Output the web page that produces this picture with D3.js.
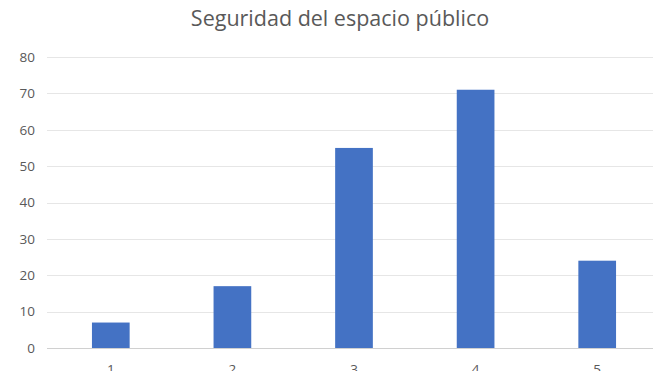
<!DOCTYPE html>
<html><head><meta charset="utf-8">
<script src="https://cdn.jsdelivr.net/npm/d3@7"></script>
<style>body{margin:0;background:#fff}svg{display:block}</style>
</head><body>
<script>
const categories = ["1","2","3","4","5"];
const values = [7,17,55,71,24];
const yTicks = [0,10,20,30,40,50,60,70,80];
const title = "Seguridad del espacio público";

const W=653,H=371;
const svg=d3.select("body").append("svg").attr("width",W).attr("height",H);
const x=d3.scaleBand().domain(categories).range([50,658]).paddingInner(0.69).paddingOuter(0.345);
const y=d3.scaleLinear().domain([0,80]).range([348,57]);
const font="'Open Sans', 'Liberation Sans', sans-serif";

svg.append("g").selectAll("line").data(yTicks).join("line")
 .attr("x1",47).attr("x2",W).attr("y1",d=>Math.round(y(d))+0.5).attr("y2",d=>Math.round(y(d))+0.5)
 .attr("stroke",d=>d===0?"#d0d0d0":"#e6e6e6").attr("stroke-width",1);

const yAxis=d3.axisLeft(y).tickValues(yTicks).tickSize(0).tickPadding(0);
const ga=svg.append("g").attr("transform","translate(35,0)").call(yAxis);
ga.select(".domain").remove();
ga.selectAll("text").attr("font-family",font).attr("font-size",13.5).attr("fill","#595959");

svg.append("g").selectAll("rect").data(values).join("rect")
 .attr("x",(d,i)=>x(categories[i])).attr("width",x.bandwidth())
 .attr("y",d=>y(d)).attr("height",d=>y(0)-y(d)).attr("fill","#4472c4");

const xAxis=d3.axisBottom(x).tickSize(0).tickPadding(0);
const gx=svg.append("g").attr("transform","translate(0,364)").call(xAxis);
gx.select(".domain").remove();
gx.selectAll("text").attr("font-family",font).attr("font-size",13.5).attr("fill","#595959");

svg.append("text").attr("x",340).attr("y",26).attr("text-anchor","middle")
 .attr("font-family",font).attr("font-size",21.5).attr("fill","#595959").text(title);
</script>
</body></html>
